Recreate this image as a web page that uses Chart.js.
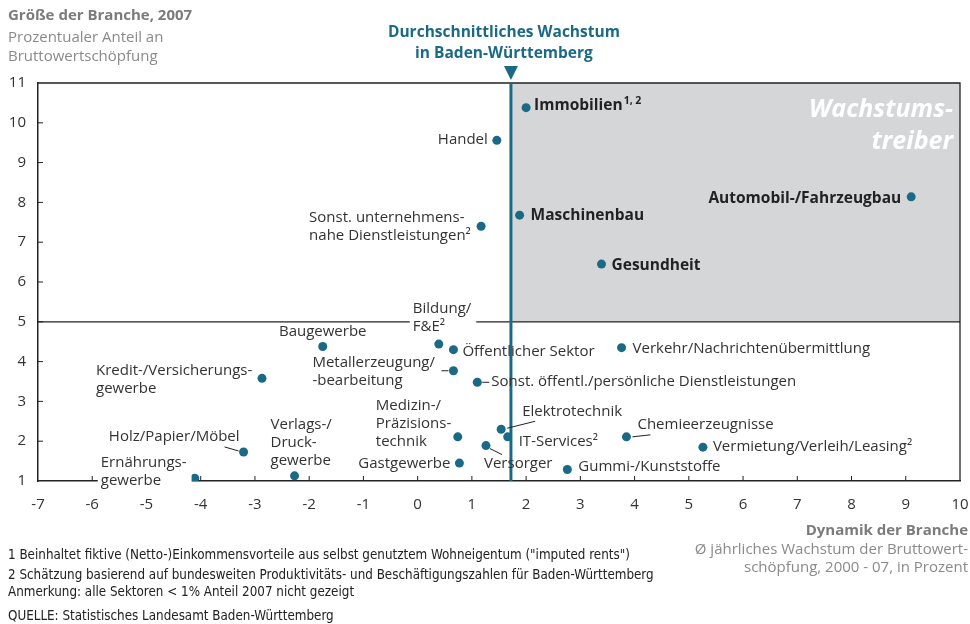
<!DOCTYPE html>
<html>
<head>
<meta charset="utf-8">
<script src="https://cdn.jsdelivr.net/npm/chart.js@4/dist/chart.umd.min.js"></script>
<style>
  html, body { margin: 0; padding: 0; background: #fff; }
  #wrap { width: 970px; height: 624px; position: relative; }
</style>
</head>
<body>
<div id="wrap"><canvas id="branchenChart" width="970" height="624"></canvas></div>
<script>
// Branchen in Baden-Württemberg: Wachstum vs. Anteil an der Bruttowertschöpfung

var sectors = [
    'Immobilien', 'Handel', 'Maschinenbau', 'Sonst. unternehmens-\nnahe Dienstleistungen²',
    'Gesundheit', 'Automobil-/Fahrzeugbau', 'Baugewerbe', 'Bildung/\nF&E²',
    'Öffentlicher Sektor', 'Metallerzeugung/\n-bearbeitung', 'Sonst. öffentl./persönliche Dienstleistungen',
    'Kredit-/Versicherungs-\ngewerbe', 'Holz/Papier/Möbel', 'Ernährungs-\ngewerbe',
    'Verlags-/\nDruck-\ngewerbe', 'Medizin-/\nPräzisions-\ntechnik', 'Gastgewerbe', 'Versorger',
    'Elektrotechnik', 'IT-Services²', 'Chemieerzeugnisse', 'Verkehr/Nachrichtenübermittlung',
    'Gummi-/Kunststoffe', 'Vermietung/Verleih/Leasing²'
];
// Ø jährliches Wachstum 2000-07 in %
var growth = [2.00, 1.46, 1.88, 1.17, 3.39, 9.10, -1.75, 0.39, 0.66, 0.66, 1.10, -2.87,
              -3.21, -4.11, -2.27, 0.74, 0.77, 1.26, 1.54, 1.66, 3.85, 3.76, 2.76, 5.26];
// Anteil an Bruttowertschöpfung 2007 in %
var share = [10.38, 9.56, 7.68, 7.40, 6.45, 8.14, 4.38, 4.44, 4.30, 3.77, 3.48, 3.58,
             1.73, 1.07, 1.13, 2.11, 1.45, 1.89, 2.30, 2.11, 2.11, 4.35, 1.29, 1.85];

var avgGrowth = 1.72;   // Durchschnitt Baden-Württemberg
var shareLimit = 5;
var xRange = [-7, 10];
var yRange = [1, 11];

var footnotes = [
    '1 Beinhaltet fiktive (Netto-)Einkommensvorteile aus selbst genutztem Wohneigentum ("imputed rents")',
    '2 Schätzung basierend auf bundesweiten Produktivitäts- und Beschäftigungszahlen für Baden-Württemberg',
    'Anmerkung: alle Sektoren < 1% Anteil 2007 nicht gezeigt',
    'QUELLE: Statistisches Landesamt Baden-Württemberg'
];

var TEAL = '#1b6a85';
var FONT = '"Open Sans", "Noto Sans", sans-serif';
var NARROW = '"Liberation Sans Narrow", "DejaVu Sans Condensed", sans-serif';

// Beschriftung: Versatz zum Punkt in Pixeln
var labelLayout = [
    { align: 'left',  dx: 8,    dy: -2, bold: true, sup: '1, 2' },
    { align: 'right', dx: -9,   dy: -1 },
    { align: 'left',  dx: 11,   dy: 0,  bold: true },
    { align: 'left',  dx: -172, dy: -9 },
    { align: 'left',  dx: 10,   dy: 1,  bold: true },
    { align: 'right', dx: -10,  dy: 2,  bold: true },
    { align: 'center', dx: 0,   dy: -15 },
    { align: 'left',  dx: -26,  dy: -35, bg: true },
    { align: 'left',  dx: 9,    dy: 2 },
    { align: 'left',  dx: -141, dy: -8, lead: [-12, 0, -5, 0] },
    { align: 'left',  dx: 14,   dy: -1, lead: [5, 0, 12, 0] },
    { align: 'left',  dx: -166, dy: -8 },
    { align: 'right', dx: -4,   dy: -15, lead: [-19, -5, -5, -1] },
    { align: 'left',  dx: -94,  dy: -15, bg: true },
    { align: 'left',  dx: -24,  dy: -51 },
    { align: 'left',  dx: -82,  dy: -31 },
    { align: 'right', dx: -9,   dy: 1 },
    { align: 'left',  dx: -2,   dy: 18, lead: [4, 3, 16, 9] },
    { align: 'left',  dx: 21,   dy: -18, lead: [6, -1, 34, -8] },
    { align: 'left',  dx: 11,   dy: 5 },
    { align: 'left',  dx: 11,   dy: -12, lead: [6, 0, 24, -2] },
    { align: 'left',  dx: 11,   dy: 1 },
    { align: 'left',  dx: 11,   dy: -3 },
    { align: 'left',  dx: 10,   dy: 0 }
];

var quadrantPlugin = {
    id: 'quadrant',
    beforeDatasetsDraw: function(chart) {
        var ctx = chart.ctx;
        var x = chart.scales.x, y = chart.scales.y;
        var a = chart.chartArea;
        var xa = x.getPixelForValue(avgGrowth);
        var y5 = y.getPixelForValue(shareLimit);
        ctx.save();
        // Wachstumstreiber-Feld
        ctx.fillStyle = '#d5d6d8';
        ctx.fillRect(xa, a.top, a.right - xa, y5 - a.top);
        ctx.fillStyle = '#fff';
        ctx.textAlign = 'right';
        ctx.textBaseline = 'alphabetic';
        ctx.font = 'italic bold 25px ' + FONT;
        ctx.fillText('Wachstums-', a.right - 7, 117);
        ctx.fillText('treiber', a.right - 7, 149);
        // Rahmen oben/rechts
        ctx.strokeStyle = '#222';
        ctx.lineWidth = 1.3;
        ctx.beginPath();
        ctx.moveTo(a.left, a.top); ctx.lineTo(a.right, a.top); ctx.lineTo(a.right, a.bottom);
        ctx.stroke();
        // Linie bei 5 %
        ctx.lineWidth = 1.2;
        ctx.beginPath();
        ctx.moveTo(a.left, y5); ctx.lineTo(a.right, y5);
        ctx.stroke();
        // innere Striche
        ctx.lineWidth = 1;
        ctx.beginPath();
        for (var v = xRange[0] + 1; v < xRange[1]; v++) {
            var px = x.getPixelForValue(v);
            ctx.moveTo(px, a.bottom); ctx.lineTo(px, a.bottom - 5);
        }
        for (var w = yRange[0] + 1; w < yRange[1]; w++) {
            var py = y.getPixelForValue(w);
            ctx.moveTo(a.left, py); ctx.lineTo(a.left + 5, py);
        }
        ctx.stroke();
        // Durchschnittslinie
        ctx.strokeStyle = TEAL;
        ctx.lineWidth = 3;
        ctx.beginPath();
        ctx.moveTo(xa, a.top); ctx.lineTo(xa, a.bottom);
        ctx.stroke();
        ctx.fillStyle = TEAL;
        ctx.beginPath();
        ctx.moveTo(xa - 7, a.top - 17); ctx.lineTo(xa + 7, a.top - 17); ctx.lineTo(xa, a.top - 3);
        ctx.closePath();
        ctx.fill();
        ctx.textAlign = 'center';
        ctx.textBaseline = 'middle';
        ctx.font = 'bold 15.5px ' + FONT;
        ctx.fillText('Durchschnittliches Wachstum', xa - 7, 33);
        ctx.fillText('in Baden-Württemberg', xa - 7, 54);
        ctx.restore();
    },
    afterDatasetsDraw: function(chart) {
        var ctx = chart.ctx;
        var meta = chart.getDatasetMeta(0);
        ctx.save();
        ctx.textBaseline = 'middle';
        meta.data.forEach(function(pt, i) {
            var lay = labelLayout[i];
            var lines = sectors[i].split('\n');
            var lh = 18;
            ctx.font = lay.bold ? 'bold 15.5px ' + FONT : '15px ' + FONT;
            var tx = pt.x + lay.dx, ty = pt.y + lay.dy;
            if (lay.bg) {
                var wmax = 0;
                lines.forEach(function(l) { wmax = Math.max(wmax, ctx.measureText(l).width); });
                ctx.fillStyle = '#fff';
                ctx.fillRect(tx - 3, ty - 10, wmax + 8, lines.length * lh + 2);
            }
            if (lay.lead) {
                ctx.strokeStyle = '#222';
                ctx.lineWidth = 1;
                ctx.beginPath();
                ctx.moveTo(pt.x + lay.lead[0], pt.y + lay.lead[1]);
                ctx.lineTo(pt.x + lay.lead[2], pt.y + lay.lead[3]);
                ctx.stroke();
            }
            ctx.fillStyle = lay.bold ? '#222' : '#333';
            ctx.textAlign = lay.align;
            lines.forEach(function(l, k) {
                ctx.fillText(l, tx, ty + k * lh);
            });
            if (lay.sup) {
                var wl = ctx.measureText(lines[0]).width;
                ctx.font = 'bold 10.5px ' + FONT;
                ctx.textAlign = 'left';
                ctx.fillText(lay.sup, tx + wl + 1, ty - 5);
            }
        });
        ctx.restore();
    },
    afterDraw: function(chart) {
        var ctx = chart.ctx;
        ctx.save();
        ctx.textBaseline = 'middle';
        ctx.textAlign = 'left';
        ctx.fillStyle = '#7b7b7b';
        ctx.font = 'bold 15px ' + FONT;
        ctx.fillText('Größe der Branche, 2007', 8, 16);
        ctx.fillStyle = '#8a8a8a';
        ctx.font = '15px ' + FONT;
        ctx.fillText('Prozentualer Anteil an', 8, 38);
        ctx.fillText('Bruttowertschöpfung', 8, 57);

        ctx.textAlign = 'right';
        ctx.fillStyle = '#7b7b7b';
        ctx.font = 'bold 15px ' + FONT;
        ctx.fillText('Dynamik der Branche', 968, 531);
        ctx.fillStyle = '#8a8a8a';
        ctx.font = '15px ' + FONT;
        ctx.fillText('Ø jährliches Wachstum der Bruttowert-', 968, 550);
        ctx.fillText('schöpfung, 2000 - 07, in Prozent', 968, 568);

        ctx.textAlign = 'left';
        ctx.fillStyle = '#222';
        ctx.font = '13.3px ' + NARROW;
        var fy = [556, 576, 593, 617];
        footnotes.forEach(function(t, i) { ctx.fillText(t, 8, fy[i]); });
        ctx.restore();
    }
};

function createBranchenChart() {
    var ctx = document.getElementById('branchenChart');
    if (!ctx) return;

    var chart = new Chart(ctx, {
        type: 'scatter',
        data: {
            labels: sectors,
            datasets: [{
                data: growth.map((g, i) => ({ x: g, y: share[i] })),
                backgroundColor: TEAL,
                borderWidth: 0,
                pointRadius: 4.5,
                pointHoverRadius: 4.5
            }]
        },
        options: {
            responsive: false,
            animation: false,
            events: [],
            layout: { padding: { top: 83, right: 10, left: 0, bottom: 0 } },
            scales: {
                x: {
                    type: 'linear',
                    min: xRange[0],
                    max: xRange[1],
                    afterFit: function(scale) {
                        scale.height = 143;
                        scale.paddingLeft = 0;
                        scale.paddingRight = 0;
                    },
                    grid: { display: false, drawTicks: false },
                    border: { display: true, color: '#222', width: 1.5 },
                    ticks: { stepSize: 1, padding: 15, color: '#333', font: { family: FONT, size: 15 } }
                },
                y: {
                    min: yRange[0],
                    max: yRange[1],
                    afterFit: function(scale) {
                        scale.width = 38;
                        scale.paddingTop = 0;
                        scale.paddingBottom = 0;
                    },
                    grid: { display: false, drawTicks: false },
                    border: { display: true, color: '#222', width: 1.5 },
                    ticks: { stepSize: 1, padding: 12, color: '#333', font: { family: FONT, size: 15 } }
                }
            },
            plugins: {
                legend: { display: false },
                tooltip: { enabled: false }
            }
        },
        plugins: [quadrantPlugin]
    });
}

createBranchenChart();
</script>
</body>
</html>
